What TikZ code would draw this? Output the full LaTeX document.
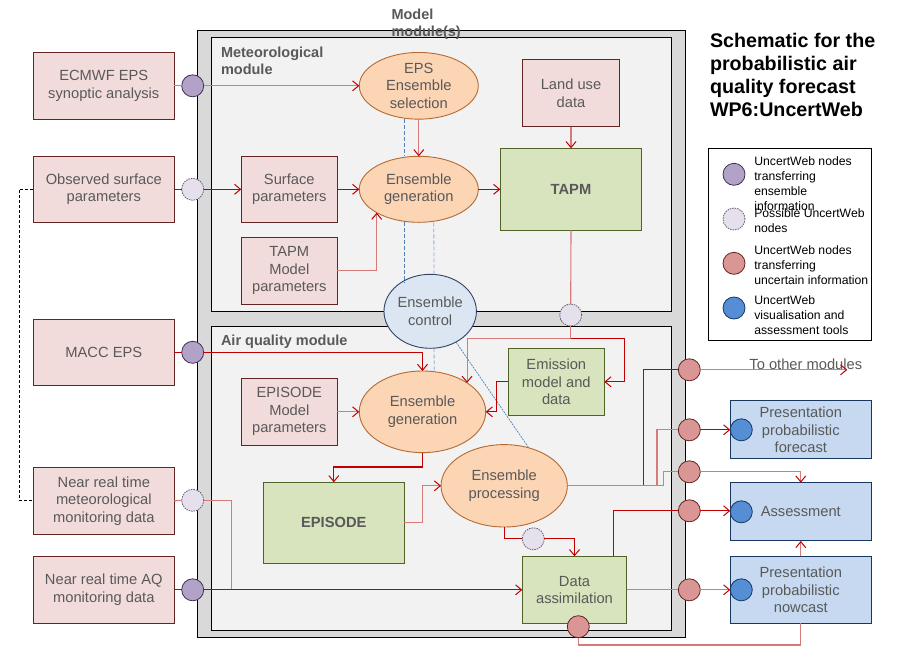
\documentclass[tikz,border=0pt]{standalone}
\usepackage{fontspec}
\setmainfont{Liberation Sans}
\usetikzlibrary{shapes.geometric,arrows.meta,calc}
\definecolor{pinkfill}{HTML}{F2DCDB}
\definecolor{boxred}{HTML}{632523}
\definecolor{orfill}{HTML}{FCD5B5}
\definecolor{orline}{HTML}{B46A32}
\definecolor{grfill}{HTML}{D7E4BD}
\definecolor{grline}{HTML}{4F6228}
\definecolor{blfill}{HTML}{C6D9F1}
\definecolor{blline}{HTML}{17375E}
\definecolor{ctrlfill}{HTML}{DCE6F2}
\definecolor{ctrlline}{HTML}{2F4465}
\definecolor{purfill}{HTML}{B3A2C7}
\definecolor{purline}{HTML}{403152}
\definecolor{posfill}{HTML}{E6E0EC}
\definecolor{posline}{HTML}{5F5F6F}
\definecolor{nodefill}{HTML}{D99694}
\definecolor{dred}{HTML}{C00000}
\definecolor{lred}{HTML}{D77A7A}
\definecolor{txt}{HTML}{595959}
\definecolor{bluedot}{HTML}{558ED5}
\definecolor{bluel}{HTML}{4F81BD}
\definecolor{bluell}{HTML}{8EA9D8}
\definecolor{modgrey}{HTML}{D9D9D9}
\definecolor{modlight}{HTML}{F2F2F2}
\newcommand\boxfont{\fontsize{14.7}{17.5}\selectfont}
\newcommand\legfont{\fontsize{12.2}{15}\selectfont}
\begin{document}
\begin{tikzpicture}[x=1pt,y=-1pt,
  every node/.style={inner sep=0pt, outer sep=0pt},
  pbox/.style={draw=boxred, fill=pinkfill, line width=1pt, align=center, text=txt, font=\boxfont},
  gbox/.style={draw=grline, fill=grfill, line width=1pt, align=center, text=txt, font=\boxfont},
  bbox/.style={draw=blline, fill=blfill, line width=1pt, align=center, text=txt, font=\boxfont},
  oell/.style={ellipse, draw=orline, fill=orfill, line width=0.9pt, align=center, text=txt, font=\boxfont},
  ucirc/.style={circle, minimum size=22pt, line width=0.8pt},
  purnode/.style={ucirc, fill=purfill, draw=purline},
  posnode/.style={ucirc, fill=posfill, draw=posline, dash pattern=on 1.5pt off 1pt},
  unode/.style={ucirc, fill=nodefill, draw=boxred},
  bnode/.style={ucirc, fill=bluedot, draw=blline},
  modlabel/.style={anchor=north west, align=left, text=txt, font=\fontsize{14.5}{17}\selectfont\bfseries},
  dr/.style={draw=dred, line width=1.1pt},
  lr/.style={draw=lred, line width=1.1pt},
  arr/.style={-{Straight Barb[length=6pt,width=10pt,line width=1pt,color=dred]}},
  bdash/.style={draw=bluel, line width=0.8pt, dash pattern=on 4pt off 2pt},
  legtext/.style={anchor=north west, align=left, text=black, font=\legfont}
]
\path[use as bounding box] (0,0) rectangle (905,665);

% modules
\draw[fill=modgrey, line width=1pt] (197,30.7) rectangle (685.7,637);
\draw[fill=modlight, line width=1pt] (211.3,37.3) rectangle (671.7,311.7);
\draw[fill=modlight, line width=1pt] (211.3,326.5) rectangle (671.7,630.3);

% labels
\node[modlabel] (modeltitle) at (391.5,8.5) {Model\\module(s)};
\node[modlabel] (metlabel) at (221,46.5) {Meteorological\\module};
\node[modlabel] (aqlabel) at (221,335) {Air quality module};
\node[anchor=north west, align=left, font=\fontsize{19.7}{23.3}\selectfont\bfseries] (title) at (710,32.8)
  {Schematic for the\\probabilistic air\\quality forecast\\WP6:UncertWeb};

% left input boxes
\node[pbox, minimum width=141pt, minimum height=67pt] (ecmwf) at (103.8,85.8) {ECMWF EPS\\synoptic analysis};
\node[pbox, minimum width=141pt, minimum height=66pt] (obs) at (103.8,189.3) {Observed surface\\parameters};
\node[pbox, minimum width=141pt, minimum height=66pt] (macc) at (103.8,352.3) {MACC EPS};
\node[pbox, minimum width=141pt, minimum height=67pt] (nrtmet) at (103.8,500.8) {Near real time\\meteorological\\monitoring data};
\node[pbox, minimum width=141pt, minimum height=67pt] (nrtaq) at (103.8,589.8) {Near real time AQ\\monitoring data};

\node[purnode] (c1) at (192.7,85.8) {};
\node[posnode] (c2) at (192.7,189.3) {};
\node[purnode] (c3) at (192.7,352.3) {};
\node[posnode] (c4) at (192.7,500.3) {};
\node[purnode] (c5) at (192.7,589.8) {};

% meteorological module
\node[oell, minimum width=119pt, minimum height=66.7pt] (epssel) at (418.8,85.8) {EPS\\Ensemble\\selection};
\node[oell, minimum width=119pt, minimum height=66pt] (metgen) at (418.8,189.3) {Ensemble\\generation};
\node[pbox, minimum width=96pt, minimum height=66pt] (surf) at (289.3,189.3) {Surface\\parameters};
\node[pbox, minimum width=96pt, minimum height=67pt] (tapmpar) at (289.3,270.8) {TAPM\\Model\\parameters};
\node[pbox, minimum width=97.4pt, minimum height=67.4pt] (land) at (571,93) {Land use\\data};
\node[gbox, minimum width=141.4pt, minimum height=82pt, font=\boxfont\bfseries] (tapm) at (571,189.3) {TAPM};
\node[ellipse, draw=ctrlline, fill=ctrlfill, line width=0.9pt, minimum width=81.7pt, minimum height=74pt, align=center, text=txt, font=\boxfont] (ctrl) at (430.2,311.3) {Ensemble\\control};
\node[posnode] (ctapm) at (570.7,315) {};

% air quality module
\node[oell, minimum width=126.4pt, minimum height=81.6pt] (aqgen) at (422.5,411.8) {Ensemble\\generation};
\node[pbox, minimum width=96pt, minimum height=67pt] (epipar) at (289.3,411.8) {EPISODE\\Model\\parameters};
\node[gbox, minimum width=141pt, minimum height=81pt, font=\boxfont\bfseries] (episode) at (333.8,522.8) {EPISODE};
\node[gbox, minimum width=96pt, minimum height=67pt] (emis) at (556.3,381.8) {Emission\\model and\\data};
\node[oell, minimum width=126.3pt, minimum height=82.4pt] (proc) at (504.2,485.8) {Ensemble\\processing};
\node[posnode] (cproc) at (533.3,538.8) {};
\node[gbox, minimum width=104.4pt, minimum height=67pt] (da) at (574.5,589.8) {Data\\assimilation};
\node[unode] (cda) at (578.3,626.7) {};

% right side
\node[unode] (n1) at (689.3,369.8) {};
\node[unode] (n2) at (689.3,429.8) {};
\node[unode] (n3) at (689.3,471.8) {};
\node[unode] (n4) at (689.3,510.8) {};
\node[unode] (n5) at (689.3,589.8) {};
\node[bbox, minimum width=141pt, minimum height=58.3pt] (fc) at (800.8,429.8) {Presentation\\probabilistic\\forecast};
\node[bbox, minimum width=141pt, minimum height=58.3pt] (assess) at (800.8,511.8) {Assessment};
\node[bbox, minimum width=141pt, minimum height=67pt] (nc) at (800.8,589.8) {Presentation\\probabilistic\\nowcast};
\node[bnode] (b1) at (741.3,429.8) {};
\node[bnode] (b2) at (741.3,511.8) {};
\node[bnode] (b3) at (741.3,589.8) {};
\coordinate (toother) at (847.3,369.8);
\node[anchor=base, text=txt, font=\boxfont] (tootherlabel) at (805.8,369) {To other modules};

% legend
\node[draw=black, line width=1pt, fill=white, minimum width=163.4pt, minimum height=191.7pt] (legend) at (790,244.2) {};
\node[purnode] (lg1) at (734,174.3) {};
\node[posnode] (lg2) at (734,219) {};
\node[unode] (lg3) at (734,263.3) {};
\node[bnode] (lg4) at (734,308) {};
\node[legtext] (lt1) at (754.3,156.8) {UncertWeb nodes\\transferring\\ensemble\\information};
\node[legtext] (lt2) at (754.3,208.3) {Possible UncertWeb\\nodes};
\node[legtext] (lt3) at (754.3,245.6) {UncertWeb nodes\\transferring\\uncertain information};
\node[legtext] (lt4) at (754.3,295.6) {UncertWeb\\visualisation and\\assessment tools};

% blue control lines
\draw[bdash] ([xshift=-14.8pt]epssel.south) -- ([xshift=-14.8pt]metgen.north);
\draw[bdash] ([xshift=-14.8pt]metgen.south) -- ([xshift=-26.2pt]ctrl.center |- 0,283);
\draw[bdash, draw=bluell] ([xshift=15pt]metgen.south) -- ([xshift=3.8pt]ctrl.north);
\draw[bdash, draw=bluell] ([xshift=3.8pt]ctrl.south) -- ([xshift=11.8pt]aqgen.north);
\draw[draw=bluel, line width=0.7pt, dash pattern=on 2pt off 1pt] (ctrl.-50) -- (proc.57);
% dashed black link
\draw[black, line width=0.9pt, dash pattern=on 3pt off 2pt] (obs.west) -- ++(-14,0) |- (nrtmet.west);
% inputs
\draw[lr] (ecmwf.east) -- (c1.west);
\draw[lr, arr] (c1.east) -- (epssel.west);
\draw[dr] (obs.east) -- (c2.west);
\draw[dr, arr] (c2.east) -- (surf.west);
\draw[dr] (macc.east) -- (c3.west);
\draw[dr, arr] (c3.east) -| (aqgen.north);
\draw[lr] (nrtmet.east) -- (c4.west);
\coordinate (m1) at (231.7,589.8);
\draw[lr] (c4.east) -| (m1);
\draw[dr] (nrtaq.east) -- (c5.west);
\draw[dr, arr] (c5.east) -- (da.west);
% met module
\draw[dr, arr] (surf.east) -- (metgen.west);
\draw[lr, arr] (epssel.south) -- (metgen.north);
\draw[lr, arr] (tapmpar.east) -| (metgen.209);
\draw[dr, arr] (metgen.east) -- (tapm.west);
\draw[lr, arr] (land.south) -- (tapm.north);
\draw[lr] (tapm.south) -- (ctapm.north);
\coordinate (j1) at (570.7,338.3);
\draw[lr] (ctapm.south) -- (j1);
\draw[lr, arr] (j1) -| (aqgen.33);
\draw[dr, arr] (j1) -| ([xshift=20pt]emis.east) -- (emis.east);
% aq module
\draw[lr, arr] (epipar.east) -- (aqgen.west);
\draw[dr, arr] (emis.west) -- ++(-11.6,0) |- (aqgen.east);
\draw[dr, arr] (aqgen.south) -- ++(0,14.4) -| (episode.north);
\draw[lr, arr] (episode.east) -- ++(18.4,0) |- (proc.west);
\draw[dr] (proc.south) |- (cproc.west);
\draw[dr, arr] (cproc.east) -| (da.north);
\draw[dr] (proc.east) -| ([xshift=-35pt]n1.west) -- (n1.west);
\draw[lr] (proc.east) -| ([xshift=-21.3pt]n2.west) -- (n2.west);
\draw[lr] (proc.east) -| ([xshift=-14.6pt]n3.west) -- (n3.west);
\draw[dr] ([xshift=-13.4pt]da.north east) |- (n4.west);
\draw[lr] (da.east) -- (n5.west);
% outputs
\draw[lr, arr] (n1.east) -- (toother);
\draw[dr, arr] (n2.east) -- (fc.west);
\draw[lr, arr] (n3.east) -| (assess.north);
\draw[dr, arr] (n4.east) -- (n4.east -| assess.west);
\draw[lr, arr] (n5.east) -- (nc.west);
\draw[lr] (cda.south) -- ++(0,7.3) -| (nc.south);
\draw[lr, arr] (nc.north) -- (assess.south);
\end{tikzpicture}
\end{document}
